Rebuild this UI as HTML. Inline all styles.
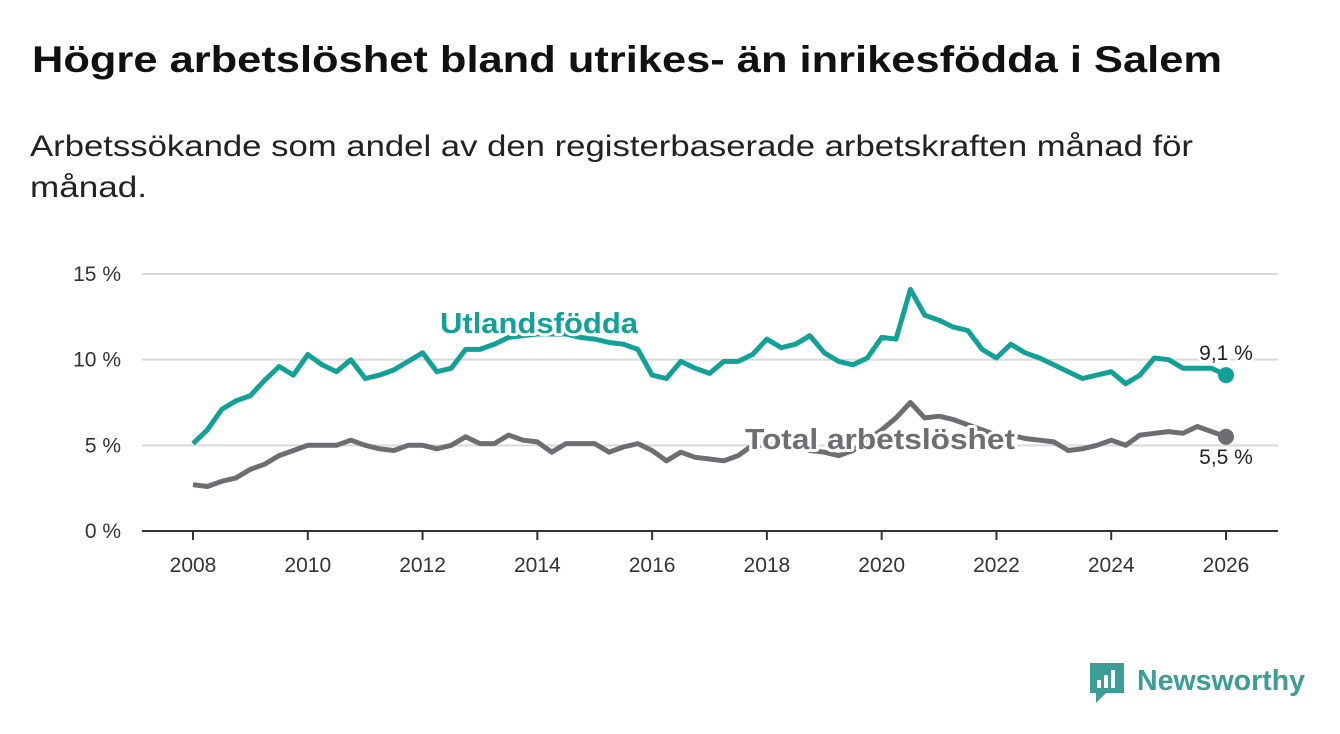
<!DOCTYPE html>
<html><head><meta charset="utf-8"><style>
body{margin:0;background:#fff;}
svg{display:block;font-family:"Liberation Sans","DejaVu Sans",sans-serif;}
.tick{font-size:21px;fill:#333;}
</style></head><body>
<svg id="chart" width="1340" height="734" viewBox="0 0 1340 734">
<text x="32" y="72" font-size="37" font-weight="bold" fill="#111" textLength="1190" lengthAdjust="spacingAndGlyphs">Högre arbetslöshet bland utrikes- än inrikesfödda i Salem</text>
<text x="30" y="156" font-size="30" fill="#222" textLength="1163" lengthAdjust="spacingAndGlyphs">Arbetssökande som andel av den registerbaserade arbetskraften månad för</text>
<text x="30" y="197" font-size="30" fill="#222" textLength="117" lengthAdjust="spacingAndGlyphs">månad.</text>
<g id="grid"></g><g id="xaxis"></g><g id="lines"></g><g id="labels"></g>
<g>
<path d="M1090 663 h34 v30 h-18 l-10 10 v-10 h-6 z" fill="#3a9e96"/>
<rect x="1097" y="680" width="4" height="8" fill="#fff"/><rect x="1104" y="675" width="4" height="13" fill="#fff"/><rect x="1111" y="670" width="4" height="18" fill="#fff"/>
<text x="1137" y="690" font-size="29" font-weight="bold" fill="#3a9e96" textLength="168" lengthAdjust="spacingAndGlyphs">Newsworthy</text>
</g>
</svg>
<script>
const years=[2008,2010,2012,2014,2016,2018,2020,2022,2024,2026];
const yTicks=[0,5,10,15];
const startYear=2008, stepYears=0.25;
const utlandsfodda=[5.1,5.9,7.1,7.6,7.9,8.8,9.6,9.1,10.3,9.7,9.3,10.0,8.9,9.1,9.4,9.9,10.4,9.3,9.5,10.6,10.6,10.9,11.3,11.4,11.5,11.5,11.5,11.3,11.2,11.0,10.9,10.6,9.1,8.9,9.9,9.5,9.2,9.9,9.9,10.3,11.2,10.7,10.9,11.4,10.4,9.9,9.7,10.1,11.3,11.2,14.1,12.6,12.3,11.9,11.7,10.6,10.1,10.9,10.4,10.1,9.7,9.3,8.9,9.1,9.3,8.6,9.1,10.1,10.0,9.5,9.5,9.5,9.1];
const total=[2.7,2.6,2.9,3.1,3.6,3.9,4.4,4.7,5.0,5.0,5.0,5.3,5.0,4.8,4.7,5.0,5.0,4.8,5.0,5.5,5.1,5.1,5.6,5.3,5.2,4.6,5.1,5.1,5.1,4.6,4.9,5.1,4.7,4.1,4.6,4.3,4.2,4.1,4.4,5.0,5.0,5.0,5.0,4.7,4.6,4.4,4.7,5.3,5.9,6.6,7.5,6.6,6.7,6.5,6.2,5.9,5.6,5.6,5.4,5.3,5.2,4.7,4.8,5.0,5.3,5.0,5.6,5.7,5.8,5.7,6.1,5.8,5.5];
const NS='http://www.w3.org/2000/svg';
const X=yr=>193+(yr-2008)*(1226-193)/18;
const Y=v=>531-v*(531-274)/15;
function mk(tag,attrs,parent){const e=document.createElementNS(NS,tag);for(const k in attrs)e.setAttribute(k,attrs[k]);parent.appendChild(e);return e;}
const grid=document.getElementById('grid');
yTicks.forEach(t=>{
 if(t>0){const l=mk('line',{x1:142,x2:1278,y1:Y(t),y2:Y(t),stroke:'#d9d9d9','stroke-width':2},grid);
 
 }
 const tx=mk('text',{x:121,y:Y(t)+7,'text-anchor':'end',class:'tick'},grid);tx.textContent=t+' %';
 
 
});
const xa=document.getElementById('xaxis');
const ax=mk('line',{x1:142,x2:1278,y1:531,y2:531,stroke:'#333','stroke-width':2},xa);


years.forEach(yr=>{
 mk('line',{x1:X(yr),x2:X(yr),y1:531,y2:540,stroke:'#333','stroke-width':2},xa);
 const tx=mk('text',{x:X(yr),y:572,'text-anchor':'middle',class:'tick'},xa);tx.textContent=yr;
 
 
});
const lines=document.getElementById('lines');
function series(data,color,name){
 const d=data.map((v,i)=>(i?'L':'M')+X(startYear+i*stepYears).toFixed(1)+' '+Y(v).toFixed(1)).join(' ');
 const p=mk('path',{d:d,fill:'none',stroke:color,'stroke-width':5,'stroke-linejoin':'round'},lines);
 
 
 const n=data.length-1;
 const c=mk('circle',{cx:X(startYear+n*stepYears),cy:Y(data[n]),r:8,fill:color},lines);
 
 
}
series(total,'#6e6d72','total');
series(utlandsfodda,'#11a196','utlandsfodda');
const lb=document.getElementById('labels');
function label(x,y,txt,color,size,weight,name,anchor,len){
 const t=mk('text',{x:x,y:y,fill:color,'font-size':size,'font-weight':weight,stroke:'#fff','stroke-width':6,'paint-order':'stroke','stroke-linejoin':'round','text-anchor':anchor||'start'},lb);
 if(len){t.setAttribute('textLength',len);t.setAttribute('lengthAdjust','spacingAndGlyphs');}
 t.textContent=txt;
 
 
}
label(440,333,'Utlandsfödda','#11a196',29,'bold','utlandsfodda-label','start',198);
label(745,449,'Total arbetslöshet','#6e6d72',29,'bold','total-label','start',270);
label(1226,360,'9,1 %','#222',21,'normal','utlandsfodda-last-value','middle');
label(1226,464,'5,5 %','#222',21,'normal','total-last-value','middle');
</script>
</body></html>
